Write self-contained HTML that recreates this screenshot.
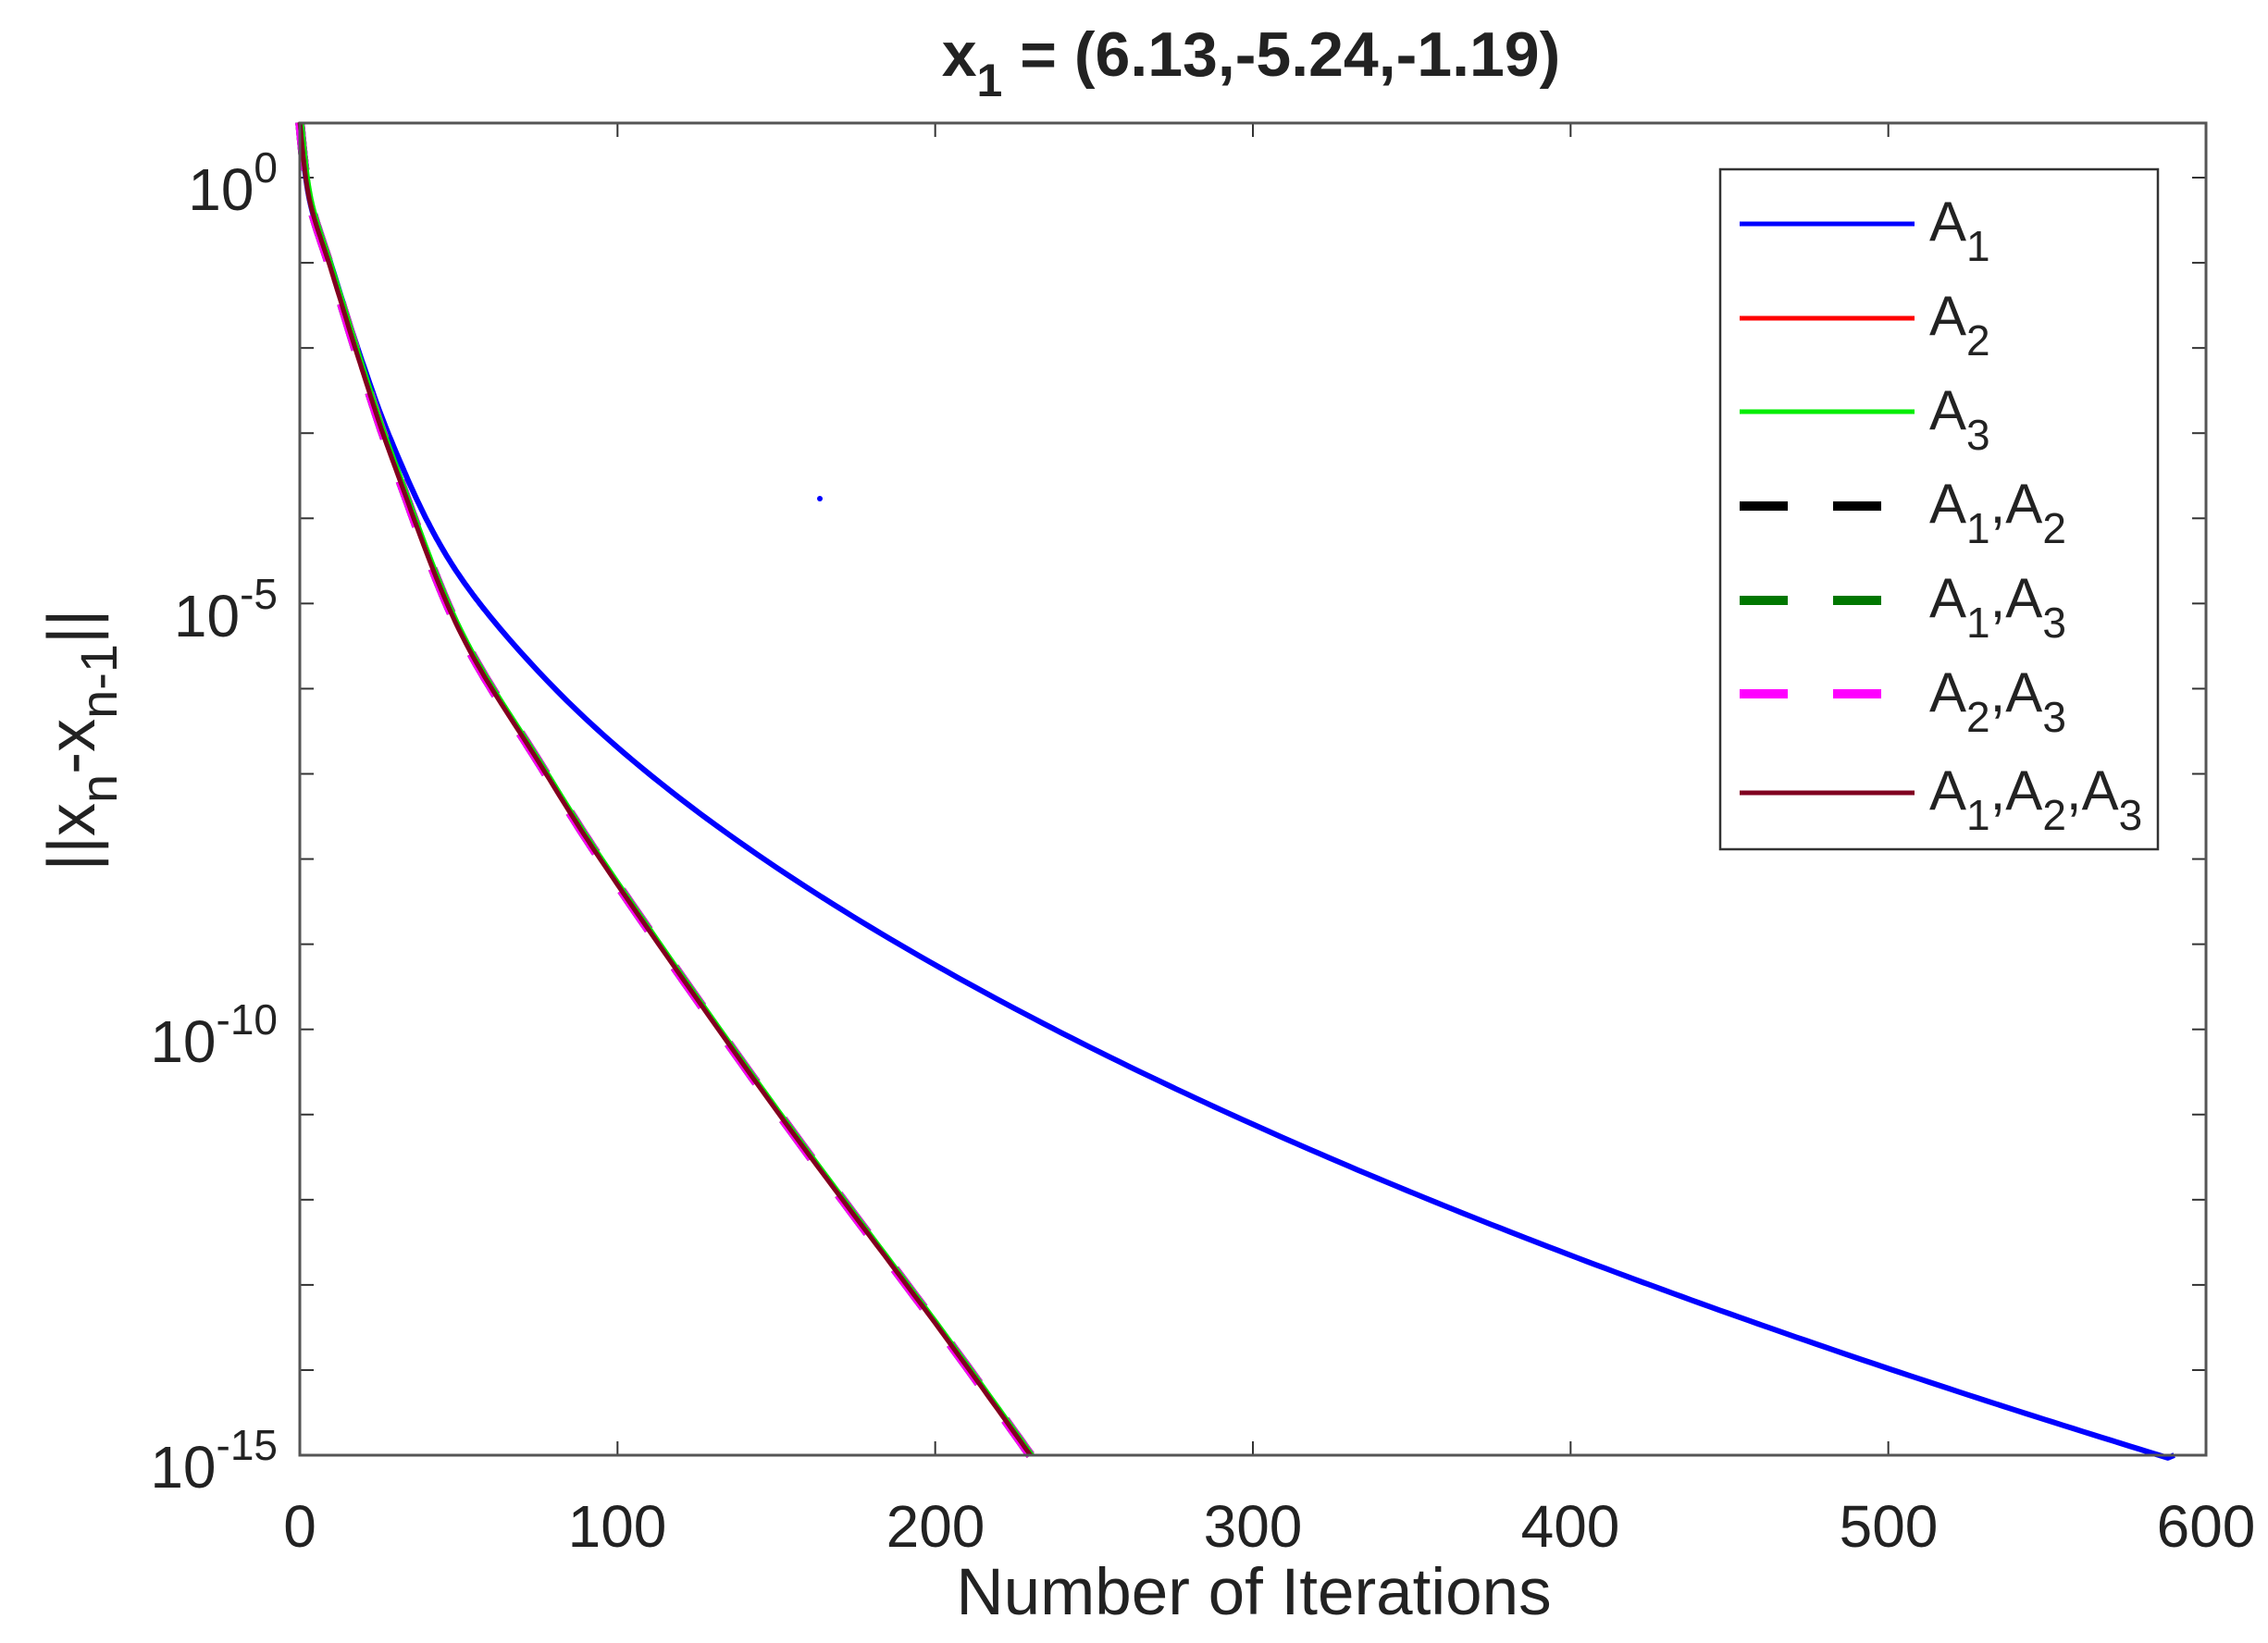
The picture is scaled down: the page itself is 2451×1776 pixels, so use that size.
<!DOCTYPE html>
<html><head><meta charset="utf-8"><style>
html,body{margin:0;padding:0;background:#fff;}
svg{display:block;}
text{font-family:"Liberation Sans",Arial,sans-serif;fill:#222;}
</style></head><body>
<svg id="s" width="2451" height="1776" viewBox="0 0 2451 1776" xmlns="http://www.w3.org/2000/svg">
<rect width="2451" height="1776" fill="#fff"/>
<g id="ticks" stroke="#333" stroke-width="2"></g>
<g id="curves" fill="none" stroke-linejoin="round"></g>
<circle cx="886" cy="539" r="3" fill="#0000ff"/>
<rect x="324" y="133" width="2060" height="1440" fill="none" stroke="#555" stroke-width="3"/>
<text x="1352" y="82" font-size="68" font-weight="bold" text-anchor="middle">x<tspan dy="22" font-size="50">1</tspan><tspan dy="-22"> = (6.13,-5.24,-1.19)</tspan></text>
<g font-size="64" text-anchor="middle">
<text x="324" y="1672">0</text><text x="667" y="1672">100</text><text x="1011" y="1672">200</text>
<text x="1354" y="1672">300</text><text x="1697" y="1672">400</text><text x="2041" y="1672">500</text><text x="2384" y="1672">600</text>
</g>
<text x="1355" y="1745" font-size="71" text-anchor="middle">Number of Iterations</text>
<g font-size="64" text-anchor="end">
<text x="300" y="227">10<tspan dy="-30" font-size="46">0</tspan></text>
<text x="300" y="688">10<tspan dy="-30" font-size="46">-5</tspan></text>
<text x="300" y="1148">10<tspan dy="-30" font-size="46">-10</tspan></text>
<text x="300" y="1608">10<tspan dy="-30" font-size="46">-15</tspan></text>
</g>
<g transform="translate(102,800) rotate(-90)">
<text x="0" y="0" font-size="72" text-anchor="middle">||x<tspan dy="24" font-size="56">n</tspan><tspan dy="-24">-x</tspan><tspan dy="24" font-size="56">n-1</tspan><tspan dy="-24">||</tspan></text>
</g>
<rect x="1859" y="183" width="473" height="735" fill="#fff" stroke="#333" stroke-width="2.5"/>
<g>
<line x1="1880" y1="242" x2="2069" y2="242" stroke="#0000ff" stroke-width="5"/>
<line x1="1880" y1="344" x2="2069" y2="344" stroke="#ff0000" stroke-width="5"/>
<line x1="1880" y1="445" x2="2069" y2="445" stroke="#00ee00" stroke-width="5"/>
<line x1="1880" y1="547" x2="2069" y2="547" stroke="#000" stroke-width="10" stroke-dasharray="52 49"/>
<line x1="1880" y1="649" x2="2069" y2="649" stroke="#007700" stroke-width="10" stroke-dasharray="52 49"/>
<line x1="1880" y1="750" x2="2069" y2="750" stroke="#ff00ff" stroke-width="10" stroke-dasharray="52 49"/>
<line x1="1880" y1="857" x2="2069" y2="857" stroke="#800020" stroke-width="5"/>
</g>
<g font-size="60">
<text x="2085" y="260">A<tspan dy="22" font-size="46">1</tspan></text>
<text x="2085" y="362">A<tspan dy="22" font-size="46">2</tspan></text>
<text x="2085" y="464">A<tspan dy="22" font-size="46">3</tspan></text>
<text x="2085" y="565">A<tspan dy="22" font-size="46">1</tspan><tspan dy="-22">,A</tspan><tspan dy="22" font-size="46">2</tspan></text>
<text x="2085" y="667">A<tspan dy="22" font-size="46">1</tspan><tspan dy="-22">,A</tspan><tspan dy="22" font-size="46">3</tspan></text>
<text x="2085" y="769">A<tspan dy="22" font-size="46">2</tspan><tspan dy="-22">,A</tspan><tspan dy="22" font-size="46">3</tspan></text>
<text x="2085" y="875">A<tspan dy="22" font-size="46">1</tspan><tspan dy="-22">,A</tspan><tspan dy="22" font-size="46">2</tspan><tspan dy="-22">,A</tspan><tspan dy="22" font-size="46">3</tspan></text>
</g>
</svg>
<script>
(function(){
function X(i){return 324+i*2060/600;}
function Y(l){return 192-l*92.07;}
var t=document.getElementById("ticks"),h="";
for(var i=0;i<=600;i+=100){var x=X(i);h+='<line x1="'+x+'" y1="1573" x2="'+x+'" y2="1558"/><line x1="'+x+'" y1="133" x2="'+x+'" y2="148"/>';}
for(var d=0;d>=-15;d--){var y=Y(d);h+='<line x1="324" y1="'+y+'" x2="339" y2="'+y+'"/><line x1="2384" y1="'+y+'" x2="2369" y2="'+y+'"/>';}
t.innerHTML=h;
function cr(pts){var out=[];for(var k=0;k<pts.length-1;k++){var p0=pts[Math.max(0,k-1)],p1=pts[k],p2=pts[k+1],p3=pts[Math.min(pts.length-1,k+2)];for(var s=0;s<20;s++){var u=s/20,u2=u*u,u3=u2*u;var f=function(a,b,c,d){return 0.5*(2*b+(-a+c)*u+(2*a-5*b+4*c-d)*u2+(-a+3*b-3*c+d)*u3);};out.push([f(p0[0],p1[0],p2[0],p3[0]),f(p0[1],p1[1],p2[1],p3[1])]);}}out.push(pts[pts.length-1]);return out;}
function path(p){var d="";for(var k=0;k<p.length;k++){d+=(k?"L":"M")+X(p[k][0]).toFixed(1)+","+Y(p[k][1]).toFixed(1);}return d;}
var grn=[[0,0.65],[3,-0.25],[10,-1.1],[20,-2.3],[30,-3.4],[50,-5.3],[75,-6.85],[100,-8.3],[150,-10.95],[200,-13.45],[230,-15]];
var gp=cr(grn);
function gval(i){for(var k=0;k<gp.length-1;k++){if(gp[k+1][0]>=i){var a=gp[k],b=gp[k+1];return a[1]+(b[1]-a[1])*(i-a[0])/(b[0]-a[0]);}}return -15;}
var bp=[];
for(var i=0;i<=590;i+=(i<60?0.5:3)){
  var pw=0.65-1.03*Math.pow(i,0.427);
  var g=i<=230?gval(i):-99;
  var k=2, m=Math.max(pw,g);
  var v=m+Math.log(Math.exp(k*(pw-m))+Math.exp(k*(g-m)))/k;
  if(i<6)v=g;
  bp.push([i,v]);
}
bp.push([590,-15]);
var c=document.getElementById("curves");
var s='<path d="'+path(bp)+'" stroke="#0000ff" stroke-width="6"/>';
var gd=path(gp);
s+='<path d="'+gd+'" stroke="#000" stroke-width="10" stroke-dasharray="52 49"/>';
s+='<path d="'+gd+'" stroke="#007700" stroke-width="10" stroke-dasharray="52 49"/>';
s+='<path d="'+gd+'" stroke="#ff00ff" stroke-width="10" stroke-dasharray="52 49"/>';
s+='<path d="'+gd+'" stroke="#ff0000" stroke-width="5"/>';
s+='<path d="'+gd+'" stroke="#00ee00" stroke-width="5" transform="translate(2,0)"/>';
s+='<path d="'+gd+'" stroke="#800020" stroke-width="5"/>';
c.innerHTML=s;
})();
</script>
</body></html>
